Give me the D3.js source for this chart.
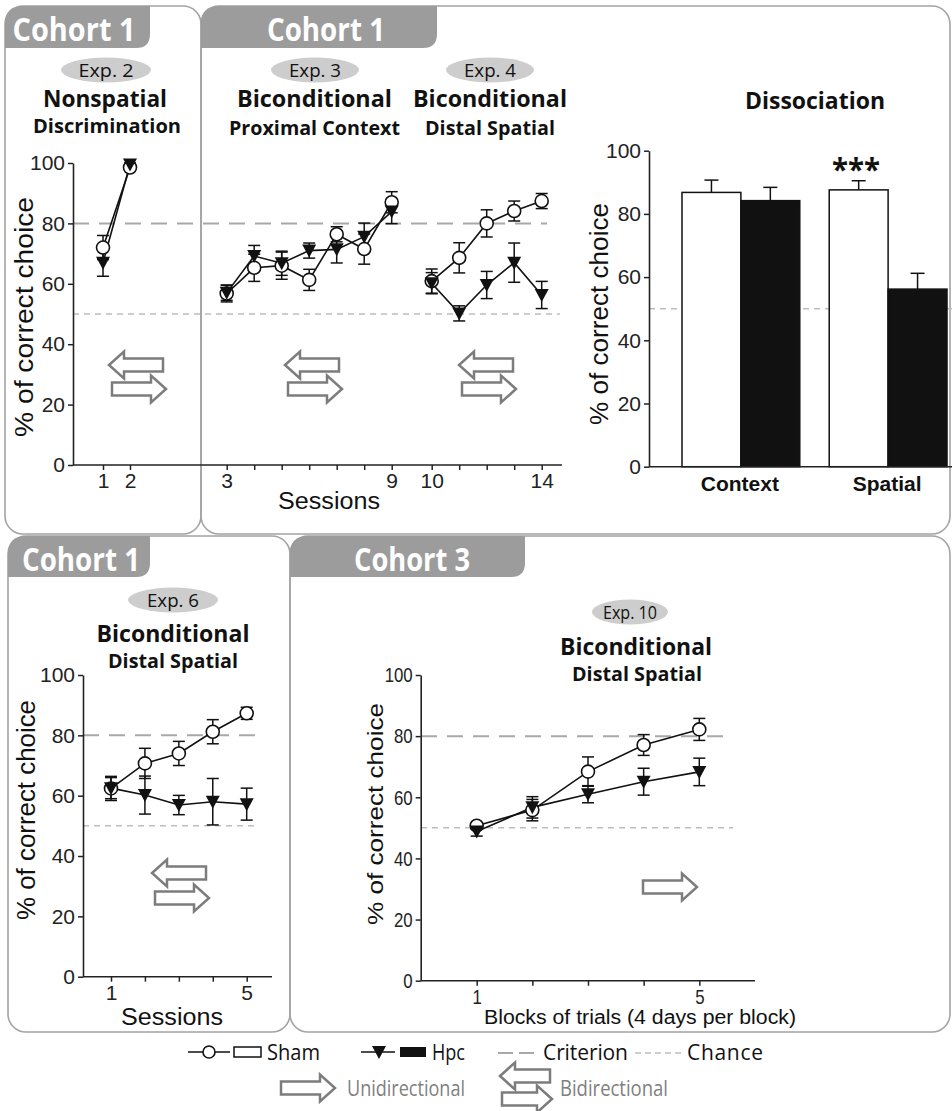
<!DOCTYPE html>
<html lang="en">
<head>
<meta charset="UTF-8">
<title>Cohort experiments</title>
<script src="https://d3js.org/d3.v7.min.js"></script>
<style>
  body { margin: 0; background: #fff; }
  svg text { font-family: "Liberation Sans", Arial, sans-serif; fill: #111; }
  svg text.myr { font-family: "Open Sans", sans-serif; }
</style>
</head>
<body>
<script>
// ---- data ----
var exp2Sessions = [1, 2];
var exp2Sham = [72, 98.5],   exp2ShamErr = [4, 1];
var exp2Hpc = [67, 99.5],    exp2HpcErr = [4.5, 0.5];

var exp3Sessions = [3, 4, 5, 6, 7, 8, 9];
var exp3Sham = [56.8, 65.3, 66, 61.3, 76.4, 71.5, 87],    exp3ShamErr = [2.8, 4.5, 4.5, 3.5, 2.5, 5, 3.5];
var exp3Hpc = [57, 69.2, 66.8, 71, 71.4, 75.6, 83.9],     exp3HpcErr = [2.5, 3.5, 4, 2.5, 4.5, 4.5, 4];

var exp4Sessions = [10, 11, 12, 13, 14];
var exp4Sham = [60.9, 68.6, 80, 84.1, 87.4],   exp4ShamErr = [4, 5, 4.5, 3.3, 2.5];
var exp4Hpc = [60.2, 50.2, 59.6, 67, 56.3],    exp4HpcErr = [3.5, 2.5, 4.5, 6.5, 4.5];

var dissocCategories = ["Context", "Spatial"];
var dissocGroups = ["Sham", "Hpc"];
var dissocSham = [86.8, 87.6], dissocShamErr = [3.9, 2.9];
var dissocHpc = [84.2, 56.2],  dissocHpcErr = [4.2, 5];

var exp6Sessions = [1, 2, 3, 4, 5];
var exp6Sham = [62.4, 70.7, 74, 81.2, 87.3],   exp6ShamErr = [4, 5, 4, 4, 2];
var exp6Hpc = [62.5, 60.2, 56.9, 58, 57.2],    exp6HpcErr = [3.5, 6.3, 3.2, 7.7, 5.3];

var exp10Blocks = [1, 2, 3, 4, 5];
var exp10Sham = [50.7, 55.8, 68.4, 77.1, 82.2], exp10ShamErr = [1, 3.5, 4.8, 3.4, 3.6];
var exp10Hpc = [48.8, 56.7, 61, 65.1, 68.3],    exp10HpcErr = [1.5, 3.5, 2.8, 4.4, 4.5];

var yTicks = [0, 20, 40, 60, 80, 100];
var topSessionTicks = d3.range(1, 15);
var topSessionLabels = [1, 2, 3, 9, 10, 14];
var fiveTickLabels = [1, 5];
var criterion = 80, chance = 50;

var boxGray = "#a3a3a3", tabGray = "#9c9c9c", arrowGray = "#7c7c7c";

var svg = d3.select("body").append("svg")
  .attr("width", 952)
  .attr("height", 1111);

// ---- helpers ----
function txt(g, x, y, s, size, opts) {
  opts = opts || {};
  var t = g.append("text")
    .attr("x", x).attr("y", y)
    .attr("font-size", size)
    .attr("text-anchor", opts.anchor || "middle")
    .text(s);
  if (opts.myr) t.attr("class", "myr");
  if (opts.bold) t.attr("font-weight", 700);
  if (opts.fill) t.style("fill", opts.fill);
  if (opts.w) t.attr("textLength", opts.w).attr("lengthAdjust", opts.adjust || "spacingAndGlyphs");
  return t;
}

function tab(x0, y0, x1, h, label, cx, tw) {
  var r1 = 18, r2 = 14;
  svg.append("path")
    .attr("d", "M" + x0 + "," + (y0 + h) + " L" + x0 + "," + (y0 + r1) +
      " Q" + x0 + "," + y0 + " " + (x0 + r1) + "," + y0 +
      " L" + x1 + "," + y0 + " L" + x1 + "," + (y0 + h - r2) +
      " Q" + x1 + "," + (y0 + h) + " " + (x1 - r2) + "," + (y0 + h) + " Z")
    .attr("fill", tabGray);
  txt(svg, cx, y0 + 35, label, 32, {myr: true, bold: true, fill: "#fff", w: tw});
}

function pill(cx, cy, rx, label, tw) {
  svg.append("ellipse").attr("cx", cx).attr("cy", cy).attr("rx", rx).attr("ry", 12.5).attr("fill", "#cdcdcd");
  txt(svg, cx, cy + 7, label, 19, {myr: true, w: tw});
}

function arrow(g, xTail, xTip, cy) {
  var s = xTip > xTail ? 1 : -1, hb = xTip - s * 15;
  g.append("path")
    .attr("d", "M" + xTail + "," + (cy - 6.5) + " L" + hb + "," + (cy - 6.5) + " L" + hb + "," + (cy - 13.5) +
      " L" + xTip + "," + cy + " L" + hb + "," + (cy + 13.5) + " L" + hb + "," + (cy + 6.5) +
      " L" + xTail + "," + (cy + 6.5) + " Z")
    .attr("fill", "#fff").attr("stroke", arrowGray).attr("stroke-width", 2.5);
}

function biArrow(g, x, cyTop, cyBot) {
  arrow(g, x + 54, x, cyTop);
  arrow(g, x + 3, x + 57, cyBot);
}

function hline(x1, x2, y, kind) {
  svg.append("line").attr("x1", x1).attr("x2", x2).attr("y1", y).attr("y2", y)
    .attr("stroke", kind === "crit" ? "#a8a8a8" : "#bdbdbd")
    .attr("stroke-width", kind === "crit" ? 2 : 1.5)
    .attr("stroke-dasharray", kind === "crit" ? "16,10" : "6,5");
}

function squeeze(sel, k) {
  sel.each(function() {
    var w = this.getComputedTextLength();
    if (w > 0) d3.select(this).attr("textLength", w * k).attr("lengthAdjust", "spacingAndGlyphs");
  });
}

function yAxis(x, y, compress) {
  var g = svg.append("g").attr("transform", "translate(" + x + ",0)")
    .call(d3.axisLeft(y).tickValues(yTicks).tickSize(5).tickSizeOuter(0).tickPadding(3));
  g.select(".domain").attr("stroke", "#222").attr("stroke-width", 1.6);
  g.selectAll(".tick line").attr("stroke", "#222").attr("stroke-width", 1.5);
  g.selectAll(".tick text").attr("font-size", 21).attr("font-family", "Liberation Sans, Arial, sans-serif").style("fill", "#222");
  if (compress) squeeze(g.selectAll(".tick text"), compress);
  return g;
}

function xAxis(x, yPos, x1, x2, ticks, labels, compress) {
  svg.append("line").attr("x1", x1).attr("x2", x2).attr("y1", yPos).attr("y2", yPos)
    .attr("stroke", "#222").attr("stroke-width", 1.6);
  var g = svg.append("g").attr("transform", "translate(0," + yPos + ")")
    .call(d3.axisBottom(x).tickValues(ticks).tickSize(5).tickPadding(3)
      .tickFormat(function(d) { return labels.indexOf(d) >= 0 ? d : ""; }));
  g.select(".domain").remove();
  g.selectAll(".tick line").attr("stroke", "#222").attr("stroke-width", 1.5);
  g.selectAll(".tick text").attr("font-size", 21).attr("font-family", "Liberation Sans, Arial, sans-serif").style("fill", "#222");
  if (compress) squeeze(g.selectAll(".tick text"), compress);
}

function yLabel(cx, cy, len, sx) {
  var g = svg.append("g").attr("transform", "translate(" + cx + "," + cy + ") scale(" + (sx || 1) + ",1) rotate(-90)");
  g.append("text").attr("x", 0).attr("y", 9).attr("text-anchor", "middle").attr("font-size", 26)
    .attr("textLength", len).attr("lengthAdjust", "spacingAndGlyphs")
    .text("% of correct choice");
}

var triPath = "M-7,-6L7,-6L0,7Z";

function plotPair(x, y, xs, sham, shamErr, hpc, hpcErr) {
  var g = svg.append("g");
  var line = d3.line().x(function(d, i) { return x(xs[i]); }).y(function(d) { return y(d); });
  [sham, hpc].forEach(function(arr) {
    g.append("path").attr("d", line(arr)).attr("fill", "none").attr("stroke", "#111").attr("stroke-width", 1.6);
  });
  [[sham, shamErr], [hpc, hpcErr]].forEach(function(p) {
    var m = p[0], e = p[1];
    var eg = g.append("g").attr("stroke", "#111").attr("stroke-width", 1.5);
    m.forEach(function(v, i) {
      var cx = x(xs[i]);
      eg.append("line").attr("x1", cx).attr("x2", cx).attr("y1", y(v - e[i])).attr("y2", y(v + e[i]));
      eg.append("line").attr("x1", cx - 6).attr("x2", cx + 6).attr("y1", y(v - e[i])).attr("y2", y(v - e[i]));
      eg.append("line").attr("x1", cx - 6).attr("x2", cx + 6).attr("y1", y(v + e[i])).attr("y2", y(v + e[i]));
    });
  });
  g.append("g").selectAll("circle").data(sham).join("circle")
    .attr("cx", function(d, i) { return x(xs[i]); })
    .attr("cy", function(d) { return y(d); })
    .attr("r", 6.5).attr("fill", "#fff").attr("stroke", "#111").attr("stroke-width", 1.6);
  g.append("g").selectAll("path").data(hpc).join("path")
    .attr("d", triPath)
    .attr("transform", function(d, i) { return "translate(" + x(xs[i]) + "," + y(d) + ")"; })
    .attr("fill", "#111");
}

// ---- boxes and tabs ----
[[5, 6, 196, 528], [201, 6, 749, 528], [8, 536, 282, 496], [290, 536, 660, 496]].forEach(function(b) {
  svg.append("rect").attr("x", b[0]).attr("y", b[1]).attr("width", b[2]).attr("height", b[3])
    .attr("rx", 18).attr("fill", "none").attr("stroke", boxGray).attr("stroke-width", 1.6);
});
tab(5, 6, 150, 42, "Cohort 1", 74, 123);
tab(201, 6, 437, 42, "Cohort 1", 326, 118);
tab(8, 536, 150, 41, "Cohort 1", 81, 118);
tab(290, 536, 525, 41, "Cohort 3", 412, 116);

// ---- top row: Exp 2, 3, 4 ----
var yTop = d3.scaleLinear().domain([0, 100]).range([465, 163]);
var xTop = d3.scaleLinear().domain([1, 2, 3, 9, 10, 14]).range([103, 130, 226.7, 391.7, 431.7, 541.7]);

pill(106, 70, 45, "Exp. 2", 55);
txt(svg, 105, 107, "Nonspatial", 24, {myr: true, bold: true, w: 124});
txt(svg, 107, 133, "Discrimination", 19, {myr: true, bold: true, w: 148});

pill(315, 70, 44, "Exp. 3", 52);
txt(svg, 314.5, 107, "Biconditional", 24, {myr: true, bold: true, w: 155});
txt(svg, 314.5, 135, "Proximal Context", 19, {myr: true, bold: true, w: 171});

pill(490, 70, 44, "Exp. 4", 52);
txt(svg, 490, 107, "Biconditional", 24, {myr: true, bold: true, w: 154});
txt(svg, 490, 135, "Distal Spatial", 19, {myr: true, bold: true, w: 130});

hline(73, 560, yTop(chance), "chance");
hline(73, 547, yTop(criterion), "crit");

biArrow(svg, 109, 365, 389);
biArrow(svg, 285, 365, 389);
biArrow(svg, 459, 365, 389);

yAxis(73, yTop);
xAxis(xTop, 465, 73, 562, topSessionTicks, topSessionLabels);
yLabel(24, 317, 240);
txt(svg, 329, 509, "Sessions", 23, {w: 102});

plotPair(xTop, yTop, exp2Sessions, exp2Sham, exp2ShamErr, exp2Hpc, exp2HpcErr);
plotPair(xTop, yTop, exp3Sessions, exp3Sham, exp3ShamErr, exp3Hpc, exp3HpcErr);
plotPair(xTop, yTop, exp4Sessions, exp4Sham, exp4ShamErr, exp4Hpc, exp4HpcErr);

// ---- Dissociation bars ----
var yDis = d3.scaleLinear().domain([0, 100]).range([466.7, 150.7]);
var xDis = d3.scaleBand().domain(dissocCategories).range([682, 947]).paddingInner(0.2).paddingOuter(0);
var xGrp = d3.scaleBand().domain(dissocGroups).range([0, xDis.bandwidth()]);

txt(svg, 815, 109, "Dissociation", 24, {myr: true, bold: true, w: 140});
hline(649, 952, yDis(chance), "chance");

var barData = [];
dissocCategories.forEach(function(c, i) {
  barData.push({cat: c, grp: "Sham", v: dissocSham[i], e: dissocShamErr[i]});
  barData.push({cat: c, grp: "Hpc", v: dissocHpc[i], e: dissocHpcErr[i]});
});
var bars = svg.append("g");
bars.selectAll("line.err").data(barData).join("line").attr("class", "err")
  .attr("x1", function(d) { return xDis(d.cat) + xGrp(d.grp) + xGrp.bandwidth() / 2; })
  .attr("x2", function(d) { return xDis(d.cat) + xGrp(d.grp) + xGrp.bandwidth() / 2; })
  .attr("y1", function(d) { return yDis(d.v); })
  .attr("y2", function(d) { return yDis(d.v + d.e); })
  .attr("stroke", "#111").attr("stroke-width", 1.5);
bars.selectAll("line.cap").data(barData).join("line").attr("class", "cap")
  .attr("x1", function(d) { return xDis(d.cat) + xGrp(d.grp) + xGrp.bandwidth() / 2 - 7; })
  .attr("x2", function(d) { return xDis(d.cat) + xGrp(d.grp) + xGrp.bandwidth() / 2 + 7; })
  .attr("y1", function(d) { return yDis(d.v + d.e); })
  .attr("y2", function(d) { return yDis(d.v + d.e); })
  .attr("stroke", "#111").attr("stroke-width", 1.5);
bars.selectAll("rect").data(barData).join("rect")
  .attr("x", function(d) { return xDis(d.cat) + xGrp(d.grp); })
  .attr("y", function(d) { return yDis(d.v); })
  .attr("width", xGrp.bandwidth())
  .attr("height", function(d) { return yDis(0) - yDis(d.v); })
  .attr("fill", function(d) { return d.grp === "Sham" ? "#fff" : "#111"; })
  .attr("stroke", "#111").attr("stroke-width", 1.5);

yAxis(649, yDis);
svg.append("line").attr("x1", 649).attr("x2", 952).attr("y1", yDis(0)).attr("y2", yDis(0))
  .attr("stroke", "#222").attr("stroke-width", 1.6);
dissocCategories.forEach(function(c) {
  txt(svg, xDis(c) + xDis.bandwidth() / 2 - 1, 491, c, 21, {bold: true});
});
txt(svg, 856, 180, "***", 30, {myr: true, bold: true, w: 48});
yLabel(599, 314, 222);

// ---- bottom left: Exp 6 ----
var y6 = d3.scaleLinear().domain([0, 100]).range([976.7, 675]);
var x6 = d3.scaleLinear().domain([1, 5]).range([111, 246.7]);

pill(173, 600, 45, "Exp. 6", 52);
txt(svg, 173, 642, "Biconditional", 24, {myr: true, bold: true, w: 153});
txt(svg, 173, 668, "Distal Spatial", 19, {myr: true, bold: true, w: 130});

hline(83, 257, y6(chance), "chance");
hline(83, 257, y6(criterion), "crit");
biArrow(svg, 152, 873, 898);

yAxis(83, y6);
xAxis(x6, 976.7, 83, 272, exp6Sessions, fiveTickLabels);
yLabel(26, 810, 220);
txt(svg, 172, 1025, "Sessions", 23, {w: 102});
plotPair(x6, y6, exp6Sessions, exp6Sham, exp6ShamErr, exp6Hpc, exp6HpcErr);

// ---- bottom right: Exp 10 ----
var y10 = d3.scaleLinear().domain([0, 100]).range([980.7, 675]);
var x10 = d3.scaleLinear().domain([1, 5]).range([476.7, 699.3]);

pill(630, 612, 38, "Exp. 10", 54);
txt(svg, 636, 655, "Biconditional", 24, {myr: true, bold: true, w: 152});
txt(svg, 637, 681, "Distal Spatial", 19, {myr: true, bold: true, w: 130});

hline(421, 733, y10(chance), "chance");
hline(421, 733, y10(criterion), "crit");
arrow(svg, 643, 697, 887);

yAxis(420.7, y10, 0.8);
xAxis(x10, 980.7, 420.7, 755, exp10Blocks, fiveTickLabels, 0.8);
yLabel(375, 814, 222, 0.85);
txt(svg, 640, 1024, "Blocks of trials (4 days per block)", 20, {w: 312});
plotPair(x10, y10, exp10Blocks, exp10Sham, exp10ShamErr, exp10Hpc, exp10HpcErr);

// ---- legend ----
var lg = svg.append("g");
lg.append("line").attr("x1", 188).attr("x2", 230).attr("y1", 1052).attr("y2", 1052).attr("stroke", "#111").attr("stroke-width", 1.6);
lg.append("circle").attr("cx", 209).attr("cy", 1052).attr("r", 6).attr("fill", "#fff").attr("stroke", "#111").attr("stroke-width", 1.6);
lg.append("rect").attr("x", 234).attr("y", 1047).attr("width", 27).attr("height", 10).attr("fill", "#fff").attr("stroke", "#111").attr("stroke-width", 1.5);
txt(lg, 267, 1060, "Sham", 21, {myr: true, anchor: "start", w: 53});

lg.append("line").attr("x1", 361).attr("x2", 395).attr("y1", 1052).attr("y2", 1052).attr("stroke", "#111").attr("stroke-width", 1.6);
lg.append("path").attr("d", triPath).attr("transform", "translate(379,1052)").attr("fill", "#111");
lg.append("rect").attr("x", 400).attr("y", 1047).attr("width", 26).attr("height", 10).attr("fill", "#111");
txt(lg, 432, 1060, "Hpc", 21, {myr: true, anchor: "start", w: 33});

lg.append("line").attr("x1", 498).attr("x2", 540).attr("y1", 1053).attr("y2", 1053)
  .attr("stroke", "#a8a8a8").attr("stroke-width", 2).attr("stroke-dasharray", "15,6");
txt(lg, 543, 1060, "Criterion", 21, {myr: true, anchor: "start", w: 85, adjust: "spacing"});
lg.append("line").attr("x1", 635).attr("x2", 682).attr("y1", 1053).attr("y2", 1053)
  .attr("stroke", "#bdbdbd").attr("stroke-width", 1.5).attr("stroke-dasharray", "6,4");
txt(lg, 687, 1060, "Chance", 21, {myr: true, anchor: "start", w: 76, adjust: "spacing"});

arrow(lg, 281, 335, 1088);
txt(lg, 347, 1096, "Unidirectional", 21, {myr: true, anchor: "start", w: 118, fill: "#808080"});
arrow(lg, 550, 500, 1076);
arrow(lg, 502, 552, 1099);
txt(lg, 560, 1096, "Bidirectional", 21, {myr: true, anchor: "start", w: 108, fill: "#808080"});
</script>
</body>
</html>
